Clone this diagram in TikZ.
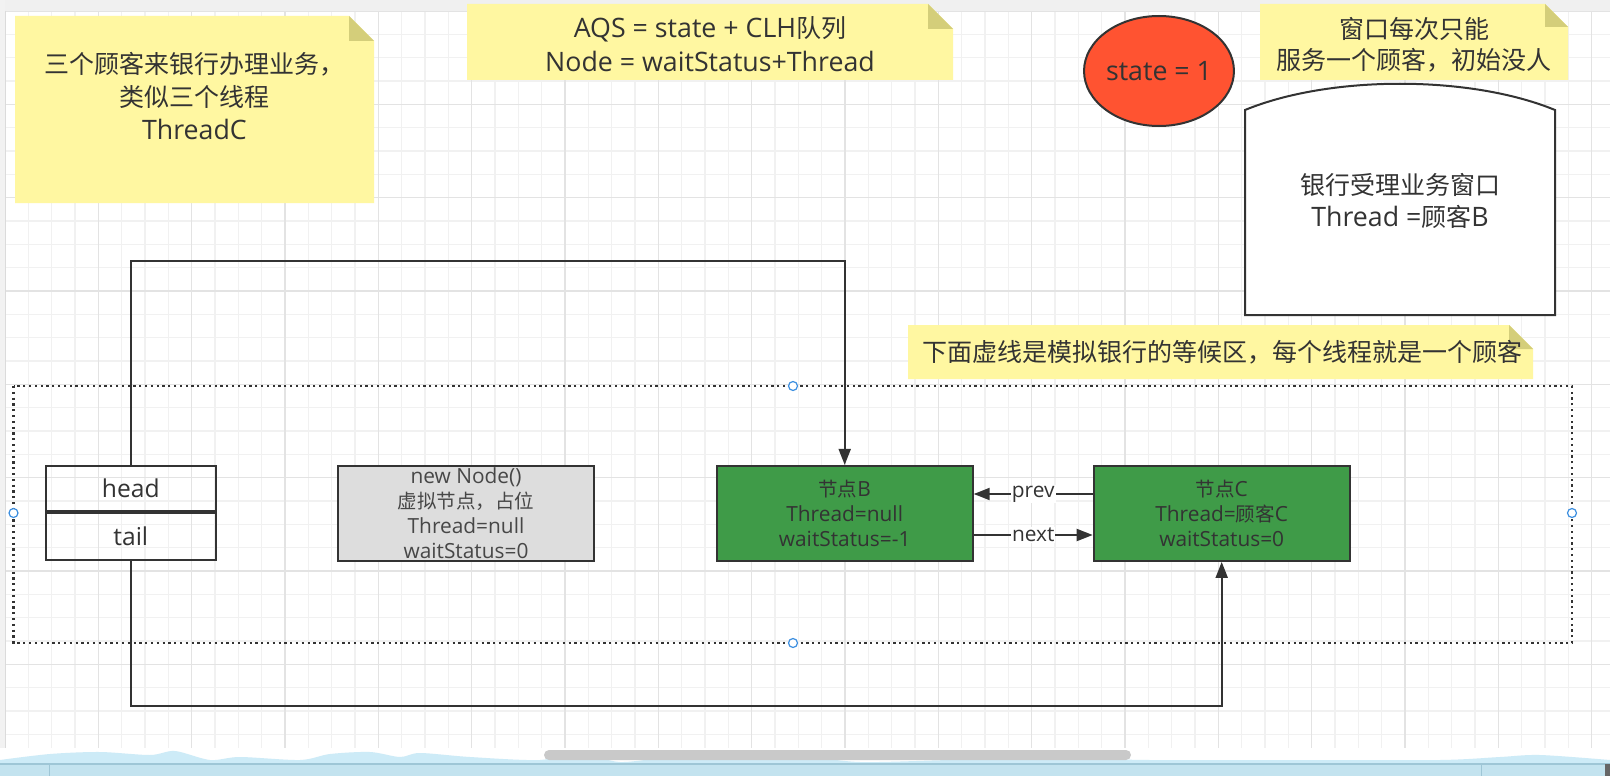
\documentclass[tikz,border=0pt]{standalone}
\usepackage{fontspec}
\setmainfont{Open Sans}[Scale=1.07]
\newfontfamily\cjkfont{Noto Sans CJK SC}
\newcommand{\cjktxt}[1]{{\cjkfont #1}}
\usetikzlibrary{arrows.meta,shapes.geometric}
\definecolor{ink}{HTML}{333333}
\definecolor{notefill}{HTML}{FFF7A1}
\definecolor{foldfill}{HTML}{D4CE7A}
\definecolor{gridminor}{HTML}{F1F1F1}
\definecolor{gridmajor}{HTML}{E3E3E3}
\definecolor{nodegreen}{HTML}{3F9B48}
\definecolor{nodegray}{HTML}{DDDDDD}
\definecolor{statered}{HTML}{FF5331}
\definecolor{handleblue}{HTML}{3D8FE0}
\definecolor{wavefill}{HTML}{CDEBF7}
\definecolor{barfill}{HTML}{C3E3EF}
\definecolor{barline}{HTML}{9EC6D6}
\begin{document}
\begin{tikzpicture}[x=1pt,y=-1pt,
  txt/.style={text=ink, align=center, inner sep=0pt},
  bigfont/.style={font=\fontsize{25}{33}\selectfont},
  smallfont/.style={font=\fontsize{19.5}{25}\selectfont},
  qbox/.style={draw=ink, line width=2pt, inner sep=0pt, text=ink, align=center},
  conn/.style={draw=ink, line width=2pt, -{Triangle[length=16pt,width=12pt]}},
  lbl/.style={fill=white, text=ink, inner sep=1pt, font=\fontsize{19.5}{22}\selectfont},
  handle/.style={draw=handleblue, fill=white, line width=1.2pt}]
\useasboundingbox (0,0) rectangle (1610,776);
\fill[white] (0,0) rectangle (1610,776);
% grid
\foreach \i in {0,...,68}{
  \pgfmathsetmacro\xx{5+\i*23.3333}
  \draw[gridminor, line width=1.2pt] (\xx,11) -- (\xx,748);
}
\foreach \i in {0,...,31}{
  \pgfmathsetmacro\yy{11+\i*23.3333}
  \draw[gridminor, line width=1.2pt] (5,\yy) -- (1610,\yy);
}
\foreach \i in {0,4,...,68}{
  \pgfmathsetmacro\xx{5+\i*23.3333}
  \draw[gridmajor, line width=1.3pt] (\xx,11) -- (\xx,748);
}
\foreach \i in {0,4,...,28}{
  \pgfmathsetmacro\yy{11+\i*23.3333}
  \draw[gridmajor, line width=1.3pt] (5,\yy) -- (1610,\yy);
}
% UI frame
\fill[black!6] (0,0) rectangle (1610,11);
\fill[black!5] (0,0) rectangle (5,748);
\draw[black!14, line width=1pt] (5,11) -- (5,748);
% notes
\fill[notefill] (15,16) -- (349,16) -- (374,41) -- (374,203) -- (15,203) -- cycle;
\fill[foldfill] (349,16) -- (374,41) -- (349,41) -- cycle;
\node[txt, bigfont] (n1) at (194.5,96) {\cjktxt{三个顾客来银行办理业务，}\\\cjktxt{类似三个线程}\\ThreadC};
\fill[notefill] (467,4) -- (928,4) -- (953,29) -- (953,80) -- (467,80) -- cycle;
\fill[foldfill] (928,4) -- (953,29) -- (928,29) -- cycle;
\node[txt, font=\fontsize{25}{34}\selectfont] (n2) at (710,44.5) {AQS = state + CLH\cjktxt{队列}\\Node = waitStatus+Thread};
\fill[notefill] (1260,4) -- (1545,4) -- (1568,27) -- (1568,80) -- (1260,80) -- cycle;
\fill[foldfill] (1545,4) -- (1568,27) -- (1545,27) -- cycle;
\node[txt, font=\fontsize{25}{31}\selectfont] (n3) at (1414,45) {\cjktxt{窗口每次只能}\\\cjktxt{服务一个顾客，初始没人}};
\fill[notefill] (908,325) -- (1509,325) -- (1533,349) -- (1533,379) -- (908,379) -- cycle;
\fill[foldfill] (1509,325) -- (1533,349) -- (1509,349) -- cycle;
\node[txt, bigfont] (n4) at (1222,352) {\cjktxt{下面虚线是模拟银行的等候区，每个线程就是一个顾客}};
% state ellipse
\node[ellipse, draw=ink, line width=2pt, fill=statered, minimum width=147pt, minimum height=110pt, inner sep=0pt, text=ink, font=\fontsize{25}{30}\selectfont] (st) at (1159,71) {state = 1};
% window
\draw[ink, line width=2pt, fill=white] (1245,315) -- (1245,110) .. controls (1330,75) and (1470,75) .. (1555,110) -- (1555,315) -- cycle;
\node[txt, font=\fontsize{25}{32}\selectfont] (win) at (1400,201) {\cjktxt{银行受理业务窗口}\\Thread =\cjktxt{顾客}B};
% waiting area
\draw[ink, line width=2.2pt, dash pattern=on 2.2pt off 3.6pt] (13.5,386) rectangle (1572,643);
% head / tail
\node[qbox, minimum width=169.6pt, minimum height=45.3pt, font=\fontsize{23}{28}\selectfont] (head) at (130.8,488.7) {head};
\node[qbox, minimum width=169.6pt, minimum height=47pt, font=\fontsize{23}{28}\selectfont] (tail) at (130.8,536.5) {tail};
% nodes
\node[qbox, fill=nodegray, minimum width=256pt, minimum height=95pt, smallfont, text=ink!90] (dummy) at (466,513.5) {new Node()\\\cjktxt{虚拟节点，占位}\\Thread=null\\waitStatus=0};
\node[qbox, fill=nodegreen, minimum width=256pt, minimum height=95pt, smallfont] (B) at (844.7,513.4) {\cjktxt{节点}B\\Thread=null\\waitStatus=-1};
\node[qbox, fill=nodegreen, minimum width=256pt, minimum height=95pt, smallfont] (C) at (1221.7,513.4) {\cjktxt{节点}C\\Thread=\cjktxt{顾客}C\\waitStatus=0};
% connectors
\coordinate (topy) at (0,260.8);
\coordinate (boty) at (0,706);
\draw[conn] (head.north) -- (head.north |- topy) -| (B.north);
\draw[conn] (tail.south) -- (tail.south |- boty) -| (C.south);
\draw[conn] ([yshift=19.4pt]C.west) -- node[lbl] {prev} ([yshift=19.4pt]B.east);
\draw[conn] ([yshift=-21.6pt]B.east) -- node[lbl] {next} ([yshift=-21.6pt]C.west);
% selection handles
\draw[handle] (793,386) circle (4.5);
\draw[handle] (13.5,513) circle (4.5);
\draw[handle] (1572,513) circle (4.5);
\draw[handle] (793,643) circle (4.5);
% bottom UI
\fill[white] (0,748) rectangle (1610,776);
\fill[wavefill] (0,764) -- plot[smooth] coordinates {(0,760) (50,754) (100,752) (150,755) (175,751) (210,760) (240,757) (300,760) (330,754) (370,752) (400,757) (420,753) (470,757) (540,760) (580,752) (620,762) (680,756) (740,758) (800,756) (860,762) (950,760) (1050,758) (1150,760) (1300,760) (1440,760) (1500,757) (1540,755) (1610,760)} -- (1610,764) -- cycle;
\fill[black!21, rounded corners=5pt] (544,750) rectangle (1131,760);
\fill[barfill] (0,764) rectangle (1610,776);
\draw[barline, line width=1.2pt] (0,764) -- (1610,764);
\draw[barline, line width=1pt] (49,764) -- (49,776);
\draw[barline, line width=1pt] (1481,764) -- (1481,776);
\fill[black!60] (1605,764) rectangle (1610,776);
\end{tikzpicture}
\end{document}
